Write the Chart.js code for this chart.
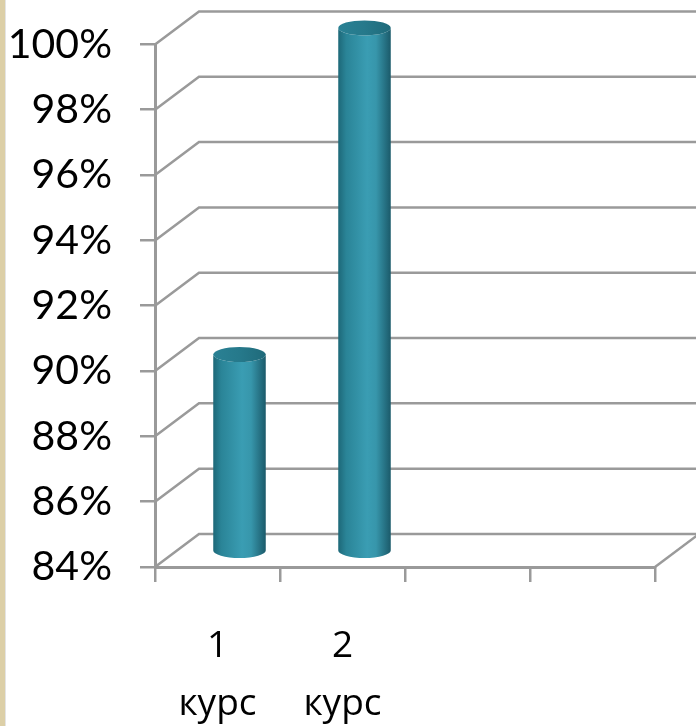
<!DOCTYPE html>
<html>
<head>
<meta charset="utf-8">
<script src="https://cdn.jsdelivr.net/npm/chart.js@4"></script>
<style>
  html, body { margin: 0; padding: 0; background: #fff; }
  #wrap { position: relative; width: 696px; height: 726px; }
  #strip { position: absolute; left: 0; top: 0; width: 5px; height: 726px; background: #dccfa7; border-right: 1px solid #e4e4e4; }
</style>
</head>
<body>
<div id="wrap">
  <canvas id="chart" width="696" height="726"></canvas>
  <div id="strip"></div>
</div>
<script>
// data
const categories = [['1', 'курс'], ['2', 'курс'], '', ''];
const values = [90, 100, null, null];
const yMin = 84, yMax = 100, yStep = 2;

// depth offset of the fake 3D box
const DX = 44, DY = -33;
const LINE = '#9a9a9a';

const box3d = {
  id: 'box3d',
  beforeDatasetsDraw(chart) {
    const { ctx, chartArea: a } = chart;
    const y = chart.scales.y;
    ctx.save();
    ctx.strokeStyle = LINE;
    ctx.lineWidth = 2.5;
    y.ticks.forEach(t => {
      const py = y.getPixelForValue(t.value);
      ctx.beginPath();
      ctx.moveTo(a.left, py);
      ctx.lineTo(a.left + DX, py + DY);
      ctx.lineTo(a.right + DX, py + DY);
      ctx.stroke();
    });
    // right edge of the floor
    ctx.beginPath();
    ctx.moveTo(a.right, a.bottom);
    ctx.lineTo(a.right + DX, a.bottom + DY);
    ctx.stroke();
    ctx.restore();
  },
  afterDatasetsDraw(chart) {
    const { ctx } = chart;
    const meta = chart.getDatasetMeta(0);
    const y = chart.scales.y;
    ctx.save();
    meta.data.forEach((el, i) => {
      if (values[i] == null) return;
      const cx = el.x + DX / 2;
      const top = el.y + DY / 2;
      const bottom = y.getPixelForValue(yMin) + DY / 2;
      const rx = el.width / 2, ry = 7.5;

      const g = ctx.createLinearGradient(cx - rx, 0, cx + rx, 0);
      g.addColorStop(0, '#1d6878');
      g.addColorStop(0.15, '#2a8497');
      g.addColorStop(0.55, '#3a9db3');
      g.addColorStop(0.72, '#3796ab');
      g.addColorStop(1, '#1b5a6a');

      ctx.beginPath();
      ctx.moveTo(cx - rx, top);
      ctx.lineTo(cx - rx, bottom);
      ctx.ellipse(cx, bottom, rx, ry, 0, Math.PI, 0, true);
      ctx.lineTo(cx + rx, top);
      ctx.ellipse(cx, top, rx, ry, 0, 0, Math.PI, false);
      ctx.closePath();
      ctx.fillStyle = g;
      ctx.fill();

      const gt = ctx.createLinearGradient(cx - rx, top, cx + rx, top);
      gt.addColorStop(0, '#2a8194');
      gt.addColorStop(0.5, '#26798b');
      gt.addColorStop(1, '#1f6a7a');
      ctx.beginPath();
      ctx.ellipse(cx, top, rx, ry, 0, 0, Math.PI * 2);
      ctx.fillStyle = gt;
      ctx.fill();
    });
    ctx.restore();
  }
};

new Chart(document.getElementById('chart'), {
  type: 'bar',
  data: {
    labels: categories,
    datasets: [{
      data: values,
      backgroundColor: 'rgba(0,0,0,0)',
      borderWidth: 0,
      categoryPercentage: 1,
      barPercentage: 0.42
    }]
  },
  options: {
    responsive: false,
    animation: false,
    layout: { padding: { top: 43, right: 41, left: 0, bottom: 0 } },
    plugins: { legend: { display: false }, tooltip: { enabled: false } },
    scales: {
      x: {
        grid: { drawOnChartArea: false, drawTicks: true, tickLength: 15, color: LINE, lineWidth: 2.5, offset: true },
        border: { display: true, color: LINE, width: 3 },
        ticks: {
          color: '#000', padding: 36, maxRotation: 0, autoSkip: false,
          font: { family: '"Open Sans"', size: 37, lineHeight: 1.55 }
        },
        afterFit(s) { s.height = 726 - 567; }
      },
      y: {
        min: yMin, max: yMax, beginAtZero: false,
        grid: { drawOnChartArea: false, drawTicks: true, tickLength: 15, color: LINE, lineWidth: 2.5 },
        border: { display: true, color: LINE, width: 3 },
        ticks: {
          stepSize: yStep, color: '#000', padding: 28,
          font: { family: 'Lato', size: 41, lineHeight: 0.8 },
          callback: v => v + '%'
        },
        afterFit(s) { s.width = 155; }
      }
    }
  },
  plugins: [box3d]
});
</script>
</body>
</html>
